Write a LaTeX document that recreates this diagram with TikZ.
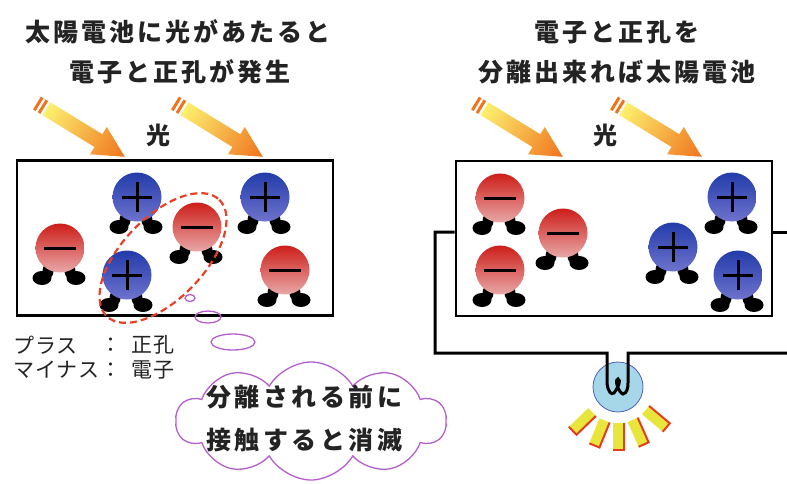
\documentclass[tikz,border=0pt]{standalone}
\usepackage{fontspec}
\usetikzlibrary{shapes.symbols}
\newfontfamily\jp{Noto Sans CJK JP}

\definecolor{ink}{RGB}{35,35,35}
\definecolor{etop}{RGB}{205,30,25}
\definecolor{emid}{RGB}{215,60,55}
\definecolor{ebot}{RGB}{232,168,168}
\definecolor{htop}{RGB}{35,60,170}
\definecolor{hmid}{RGB}{48,72,182}
\definecolor{hbot}{RGB}{110,115,205}
\definecolor{rayyellow}{RGB}{252,240,110}
\definecolor{raymid}{RGB}{248,200,60}
\definecolor{rayorange}{RGB}{240,115,30}
\definecolor{pairred}{RGB}{230,65,40}
\definecolor{cloudpurple}{RGB}{180,95,205}
\definecolor{bulbfill}{RGB}{165,215,232}
\definecolor{bulbline}{RGB}{80,95,185}
\definecolor{glowyellow}{RGB}{232,230,60}
\definecolor{glowred}{RGB}{230,60,30}

% incoming light: striped tail, yellow-to-orange body
\newcommand\sunray[2]{%
  \begin{scope}[transform canvas={shift={(#1,#2)}, rotate=-31.5}]
    \fill[rayorange] (0,-7.5) rectangle (3,7.5);
    \fill[rayorange] (5.5,-7.5) rectangle (8.5,7.5);
    \shade[left color=rayyellow, middle color=raymid, right color=rayorange]
      (11,-7.5) -- (72,-7.5) -- (72,-16) -- (103,0) -- (72,16) -- (72,7.5) -- (11,7.5) -- cycle;
  \end{scope}}

% one ray of the glowing lamp
\newcommand\glow[1]{%
  \begin{scope}[shift={(bulb.center)}, rotate=#1]
    \fill[glowyellow] (-5.5,36) rectangle (5.5,63);
    \draw[glowred, line width=2] (5.5,36) -- (5.5,63) -- (-5.5,63);
  \end{scope}}

\tikzset{
  title/.style={inner sep=0, text=ink, font=\jp\bfseries\fontsize{25}{30}\selectfont\addfontfeature{LetterSpace=12}},
  lightlabel/.style={inner sep=0, text=ink, font=\jp\bfseries\fontsize{24}{28}\selectfont},
  legend/.style={inner sep=0, text=ink, font=\jp\fontsize{21}{25}\selectfont\addfontfeature{LetterSpace=4}},
  thought/.style={inner sep=0, text=ink, font=\jp\bfseries\fontsize{25}{30}\selectfont\addfontfeature{LetterSpace=14}},
  cellbox/.style={draw=black, line width=2.6, minimum width=316, minimum height=155, inner sep=0},
  wire/.style={draw=black, line width=3, line join=miter},
  bubble/.style={draw=cloudpurple, line width=1.3},
  foot/.style={fill=black},
  sign/.style={draw=black, line width=3},
  feet/.pic={
    \fill[foot] (-18,30) ellipse [x radius=9.5, y radius=7];
    \fill[foot] (-12,23) ellipse [x radius=5.5, y radius=7.5];
    \fill[foot] (16,30) ellipse [x radius=9.5, y radius=7];
    \fill[foot] (10,23) ellipse [x radius=5.5, y radius=7.5];
  },
  electron/.pic={
    \pic {feet};
    \shade[top color=etop, middle color=emid, bottom color=ebot] (0,0) circle [radius=24.5];
    \draw[sign] (-16,0) -- (16,0);
  },
  hole/.pic={
    \pic {feet};
    \shade[top color=htop, middle color=hmid, bottom color=hbot] (0,0) circle [radius=24.5];
    \draw[sign] (-15,0) -- (15,0) (0,-15) -- (0,15);
  },
}

\begin{document}
\begin{tikzpicture}[x=1pt, y=-1pt]
\useasboundingbox (0,0) rectangle (787,483);

% headings
\node[title] (headL1) at (178,32) {太陽電池に光があたると};
\node[title] (headL2) at (180,72) {電子と正孔が発生};
\node[title] (headR1) at (617,32) {電子と正孔を};
\node[title] (headR2) at (617,72) {分離出来れば太陽電池};

% light
\sunray{37}{103}
\sunray{175}{103}
\sunray{475}{103}
\sunray{614}{103}
\node[lightlabel] (lightL) at (158,135) {光};
\node[lightlabel] (lightR) at (605,135) {光};

% cells
\node[cellbox] (cellL) at (175,238) {};
\node[cellbox] (cellR) at (614,238.5) {};

% left cell: pairs generated everywhere
\pic at (60,248) {electron};
\pic at (137,197) {hole};
\pic at (197,227) {electron};
\pic at (265,197) {hole};
\pic at (127,275) {hole};
\pic at (285,270) {electron};

% a pair that recombines
\begin{scope}[shift={(163,258)}, rotate=46]
  \draw[pairred, line width=2.2, dash pattern=on 7pt off 4pt] (0,0) ellipse [x radius=81, y radius=41];
\end{scope}

% right cell: charges separated
\pic at (500,198) {electron};
\pic at (563,233) {electron};
\pic at (500,270) {electron};
\pic at (732,197) {hole};
\pic at (673,247) {hole};
\pic at (738,275) {hole};

% legend
\node[legend, anchor=west] (plusL) at (13,345) {プラス};
\node[legend, anchor=west] (minusL) at (13,370) {マイナス};
\node[legend] (colon1) at (111,345) {：};
\node[legend] (colon2) at (111,370) {：};
\node[legend, anchor=west] (plusM) at (131,345) {正孔};
\node[legend, anchor=west] (minusM) at (131,370) {電子};

% thought bubble
\draw[bubble] (190,298) ellipse [x radius=5, y radius=3.5];
\draw[bubble] (208,317) ellipse [x radius=13, y radius=6];
\draw[bubble] (233,342) ellipse [x radius=22, y radius=8];
\node[cloud, bubble, cloud puffs=10, cloud puff arc=120, aspect=2.3,
      minimum width=270, minimum height=118, inner sep=0] (cloud) at (311,421) {};
\node[thought] (thought1) at (304,397) {分離される前に};
\node[thought] (thought2) at (304,440) {接触すると消滅};

% external circuit with lamp
\node[circle, draw=bulbline, line width=0.8, fill=bulbfill, minimum size=50, inner sep=0] (bulb) at (618,387) {};
\coordinate (edgeTop) at (787,232);
\coordinate (edgeBot) at (787,353);
\draw[wire] (cellR.west) ++(0,-6.5) -- (435,232) -- (435,353) -- (607,353) -- (607,383)
  .. controls (608,392) and (611,395) .. (614,393)
  .. controls (617,389) and (622,380) .. (618,379)
  .. controls (614,380) and (619,393) .. (623,394)
  .. controls (627,393) and (628,388) .. (628,383) -- (628,353) -- (edgeBot);
\draw[wire] (cellR.east) ++(0,-6.5) -- (edgeTop);

\glow{-46}
\glow{-22}
\glow{0}
\glow{24}
\glow{50}
\end{tikzpicture}
\end{document}
